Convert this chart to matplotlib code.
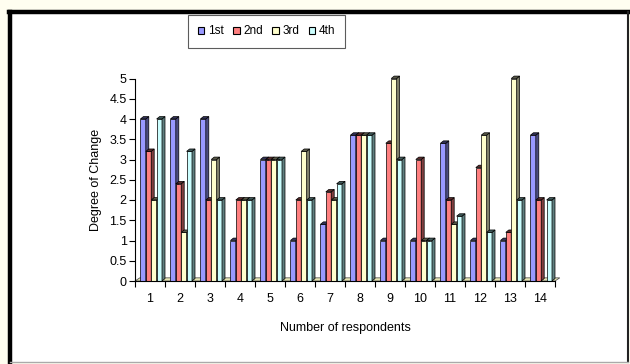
import numpy as np
import matplotlib.pyplot as plt
from matplotlib.patches import Polygon, Rectangle, Patch
from matplotlib.lines import Line2D

plt.rcParams['font.family'] = ['Liberation Sans', 'DejaVu Sans']

# survey answers, one list per round
respondents = list(range(1, 15))
first = [4, 4, 4, 1, 3, 1, 1.4, 3.6, 1, 1, 3.4, 1, 1, 3.6]
second = [3.2, 2.4, 2, 2, 3, 2, 2.2, 3.6, 3.4, 3, 2, 2.8, 1.2, 2]
third = [2, 1.2, 3, 2, 3, 3.2, 2, 3.6, 5, 1, 1.4, 3.6, 5, 0]
fourth = [4, 3.2, 2, 2, 3, 2, 2.4, 3.6, 3, 1, 1.6, 1.2, 2, 2]
series_names = ['1st', '2nd', '3rd', '4th']
y_ticks = [0, 0.5, 1, 1.5, 2, 2.5, 3, 3.5, 4, 4.5, 5]

face_colors = ['#9999FF', '#FF7F7F', '#FFFFCC', '#CCFFFF']
side_colors = ['#4C4C80', '#803F3F', '#80806A', '#5F7F7F']
top_colors = ['#33335A', '#5A2A2A', '#5A5A48', '#3F5A5A']

fig = plt.figure(figsize=(6.3, 3.64), dpi=100)
fig.patch.set_facecolor('#FFFEF0')

# white panel with the heavy black frame
fig.add_artist(Rectangle((10 / 630, 2 / 364), 618 / 630, 350 / 364,
                         transform=fig.transFigure, facecolor='white',
                         edgecolor='none', zorder=0))
fig.add_artist(Line2D([10 / 630, 10 / 630], [2 / 364, 352 / 364],
                      transform=fig.transFigure, color='black', lw=3.2))
fig.add_artist(Line2D([8.5 / 630, 628 / 630], [352 / 364, 352 / 364],
                      transform=fig.transFigure, color='black', lw=3.2))
fig.add_artist(Line2D([628 / 630, 628 / 630], [2 / 364, 352 / 364],
                      transform=fig.transFigure, color='#222222', lw=1.5))
fig.add_artist(Line2D([10 / 630, 628 / 630], [2 / 364, 2 / 364],
                      transform=fig.transFigure, color='#AAAAAA', lw=1.0))

ax = fig.add_axes([135 / 630, 1 - 281 / 364, 420 / 630, 202.5 / 364])
ax.set_facecolor('none')

w = 0.18
dx = 0.1
dy = 0.06

# floor under the columns
floor = Polygon([(0.5, 0), (14.5, 0), (14.5 + dx * 1.6, dy * 1.3), (0.5 + dx * 1.6, dy * 1.3)],
                closed=True, facecolor='#E6E6B4', edgecolor='#555555', lw=0.6,
                zorder=1, clip_on=False)
ax.add_patch(floor)

x = np.array(respondents, dtype=float)
all_series = [first, second, third, fourth]
for k, vals in enumerate(all_series):
    lefts = x - 0.32 + k * w
    for left, h in zip(lefts, vals):
        if h <= 0:
            continue
        z = 2 + k
        ax.add_patch(Rectangle((left, 0), w, h, facecolor=face_colors[k],
                               edgecolor='black', lw=0.5, zorder=z, clip_on=False))
        side = [(left + w, 0), (left + w, h), (left + w + dx, h + dy), (left + w + dx, dy)]
        ax.add_patch(Polygon(side, closed=True, facecolor=side_colors[k],
                             edgecolor='black', lw=0.5, zorder=z, clip_on=False))
        top = [(left, h), (left + w, h), (left + w + dx, h + dy), (left + dx, h + dy)]
        ax.add_patch(Polygon(top, closed=True, facecolor=top_colors[k],
                             edgecolor='black', lw=0.5, zorder=z, clip_on=False))

ax.set_xlim(0.5, 14.5)
ax.set_ylim(0, 5)

for s in ['top', 'right']:
    ax.spines[s].set_visible(False)
ax.spines['left'].set_linewidth(0.8)
ax.spines['bottom'].set_linewidth(0.8)
ax.spines['bottom'].set_zorder(10)

ax.set_yticks(y_ticks)
ax.set_yticklabels([f'{t:g}' for t in y_ticks])
ax.set_xticks(x)
ax.set_xticklabels([str(r) for r in respondents])
ax.set_xticks(np.arange(0.5, 15, 1.0), minor=True)
ax.tick_params(axis='x', which='major', length=0, pad=9, labelsize=9)
ax.tick_params(axis='x', which='minor', length=4, width=0.8, direction='out')
ax.tick_params(axis='y', length=4, width=0.8, labelsize=9, pad=2)

ax.set_ylabel('Degree of Change', fontsize=9, labelpad=5)
ax.set_xlabel('Number of respondents', fontsize=9, labelpad=12)

handles = [Patch(facecolor=c, edgecolor='black', lw=0.8) for c in face_colors]
leg = fig.legend(handles, series_names, loc='center', ncol=4,
                 bbox_to_anchor=(266.5 / 630, 1 - 31.5 / 364), fontsize=8.5,
                 frameon=True, fancybox=False, edgecolor='#333333',
                 handlelength=0.55, handleheight=0.55, handletextpad=0.3,
                 columnspacing=0.8, borderpad=0.85, borderaxespad=0)
leg.get_frame().set_linewidth(0.8)

fig.savefig('out.png', dpi=100, facecolor=fig.get_facecolor())
